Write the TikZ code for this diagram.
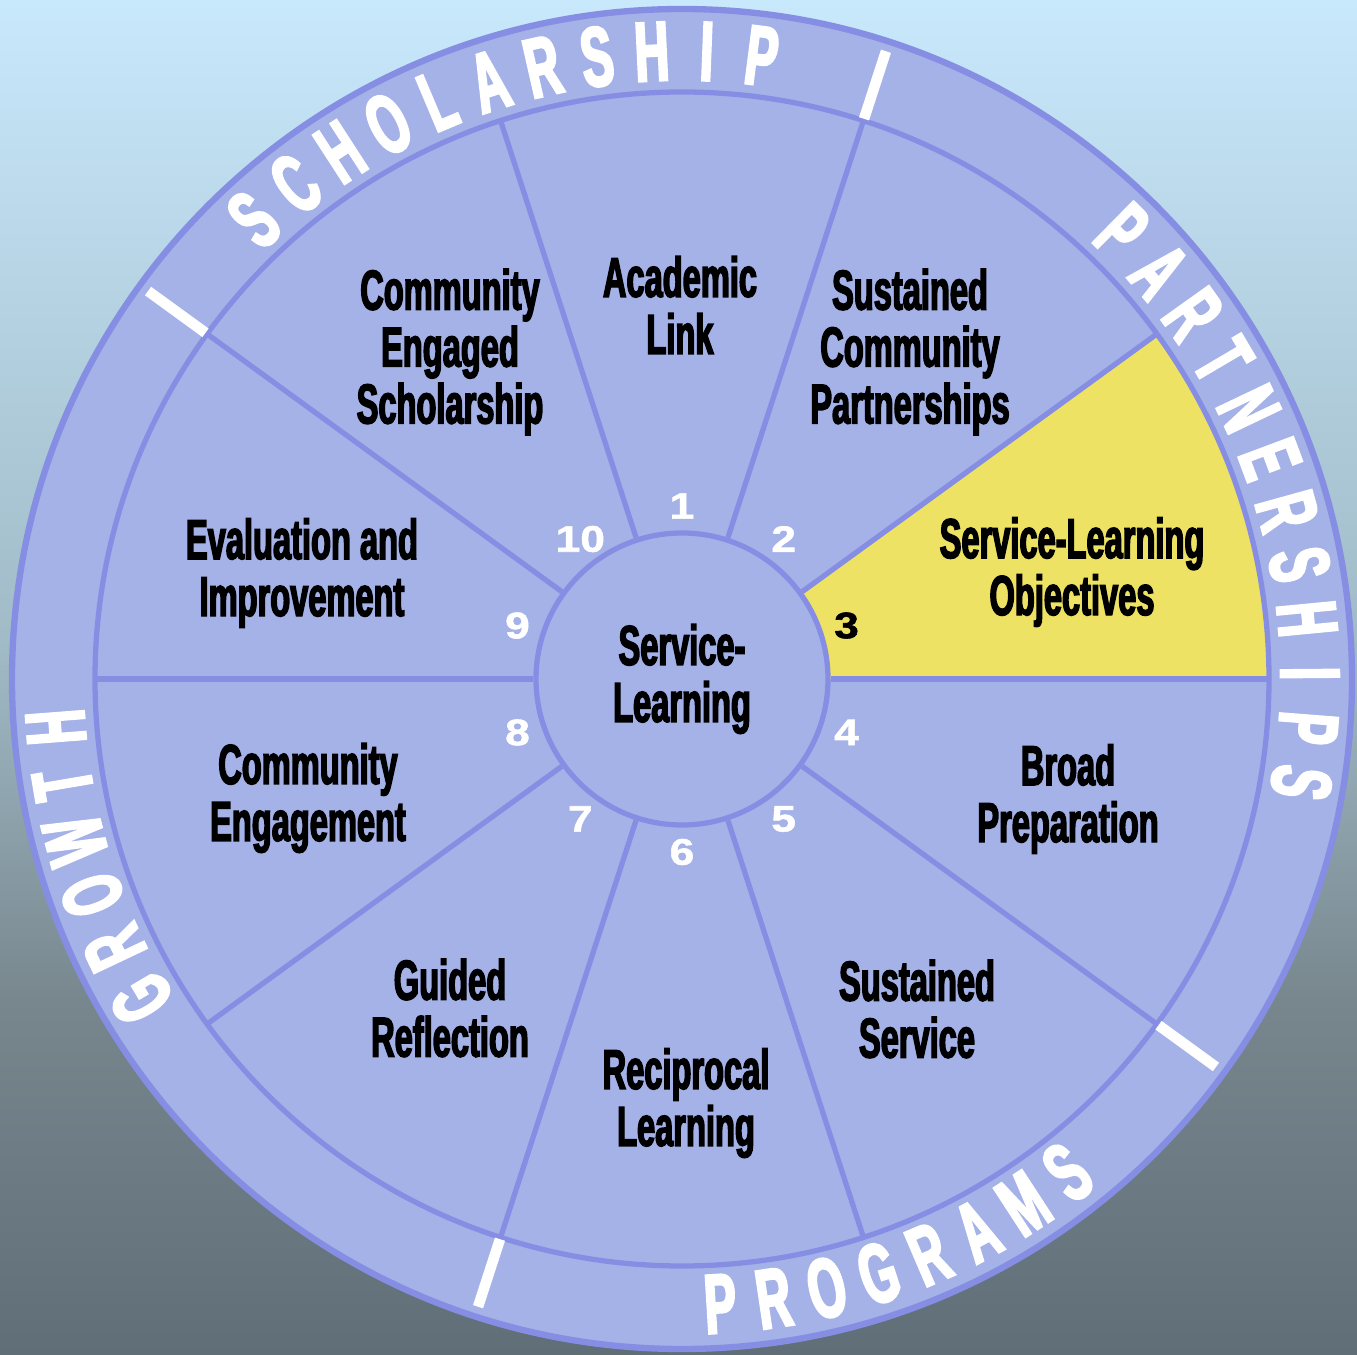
\documentclass[tikz,border=0pt]{standalone}
\usepackage{fontspec}
\newfontfamily\wheelfont[FakeStretch=0.58, BoldFeatures={FakeBold=2.5}]{Liberation Sans}
\newfontfamily\ringfont[FakeStretch=0.56, BoldFeatures={FakeBold=3}]{Liberation Sans}
\newfontfamily\numfont[FakeStretch=1.2, BoldFeatures={FakeBold=1.5}]{Liberation Sans}
\definecolor{wheelfill}{RGB}{164, 178, 232}
\definecolor{wheelline}{RGB}{134, 142, 228}
\definecolor{objyellow}{RGB}{238, 226, 100}
\definecolor{skytop}{RGB}{200, 232, 252}
\definecolor{skymid}{RGB}{160, 186, 198}
\definecolor{skylow}{RGB}{120, 135, 142}
\definecolor{skybot}{RGB}{96, 110, 120}
\usepackage{tikz}

\begin{document}
\begin{tikzpicture}[
  wedgetxt/.style={align=center, inner sep=0pt,
                   font=\wheelfont\bfseries\fontsize{16}{16.2}\selectfont},
  ringletter/.style={text=white, inner sep=0pt,
                     font=\ringfont\bfseries\fontsize{24}{24}\selectfont},
  numtxt/.style={text=white, inner sep=0pt,
                 font=\numfont\bfseries\fontsize{10.5}{10.5}\selectfont},
  rim/.style={draw=wheelline, line width=1.5pt},
]
% Background
\useasboundingbox (-6.82,-6.75) rectangle (6.75,6.79);
\shade[top color=skytop, bottom color=skymid] (-6.82,0.29) rectangle (6.75,6.79);
\shade[top color=skymid, bottom color=skylow] (-6.82,-3.21) rectangle (6.75,0.30);
\shade[top color=skylow, bottom color=skybot] (-6.82,-6.75) rectangle (6.75,-3.20);

% Wheel
\fill[wheelfill] (0,0) circle[radius=6.70];
\fill[objyellow] (0:1.46) -- (0:5.87) arc[start angle=0, end angle=36, radius=5.87]
     -- (36:1.46) arc[start angle=36, end angle=0, radius=1.46] -- cycle;
\node[wedgetxt, circle, rim, fill=wheelfill, minimum size=2.92cm] (hub) at (0,0)
     {Service-\\Learning};
\foreach \a in {0,36,...,324}
  \draw[rim] (hub.\a) -- (\a:5.87);
\draw[rim] (0,0) circle[radius=5.87];
\draw[rim, line width=1.8pt] (0,0) circle[radius=6.70];

% Ring separators
\foreach \a in {72,144,252,324}
  \draw[white, line width=3pt] (\a:5.89) -- (\a:6.60);

% Ring words
\foreach \ch [count=\i from 0] in {S,C,H,O,L,A,R,S,H,I,P}
  \node[ringletter, rotate={43-5.03*\i}] (sch\i) at ({133-5.03*\i}:6.28) {\ch};
\foreach \ch [count=\i from 0] in {P,A,R,T,N,E,R,S,H,I,P,S}
  \node[ringletter, rotate={-44.5-5*\i}] (par\i) at ({45.5-5*\i}:6.28) {\ch};
\foreach \ch [count=\i from 0] in {G,R,O,W,T,H}
  \node[ringletter, rotate={120.6-5.24*\i}] (gro\i) at ({210.6-5.24*\i}:6.28) {\ch};
\foreach \ch [count=\i from 0] in {P,R,O,G,R,A,M,S}
  \node[ringletter, rotate={3.5+4.93*\i}] (pro\i) at ({-86.5+4.93*\i}:6.26) {\ch};

% Wedge labels
\node[wedgetxt] (academic) at (-0.02, 3.74) {Academic\\Link};
\node[wedgetxt] (partnerships) at (2.28, 3.27) {Sustained\\Community\\Partnerships};
\node[wedgetxt] (objectives) at (3.90, 1.07) {Service-Learning\\Objectives};
\node[wedgetxt] (preparation) at (3.86, -1.20) {Broad\\Preparation};
\node[wedgetxt] (service) at (2.35, -3.30) {Sustained\\Service};
\node[wedgetxt] (reciprocal) at (0.04, -4.24) {Reciprocal\\Learning};
\node[wedgetxt] (reflection) at (-2.32, -3.29) {Guided\\Reflection};
\node[wedgetxt] (engagement) at (-3.74, -1.19) {Community\\Engagement};
\node[wedgetxt] (evaluation) at (-3.80, 1.06) {Evaluation and\\Improvement};
\node[wedgetxt] (scholarship) at (-2.32, 3.27) {Community\\Engaged\\Scholarship};

% Numbers
\foreach \n in {1,2,4,5,6,7,8,9,10}
  \node[numtxt] (num\n) at ({126-36*\n}:1.73) {\n};
\node[numtxt, text=black] (num3) at (18:1.73) {3};
\end{tikzpicture}
\end{document}
